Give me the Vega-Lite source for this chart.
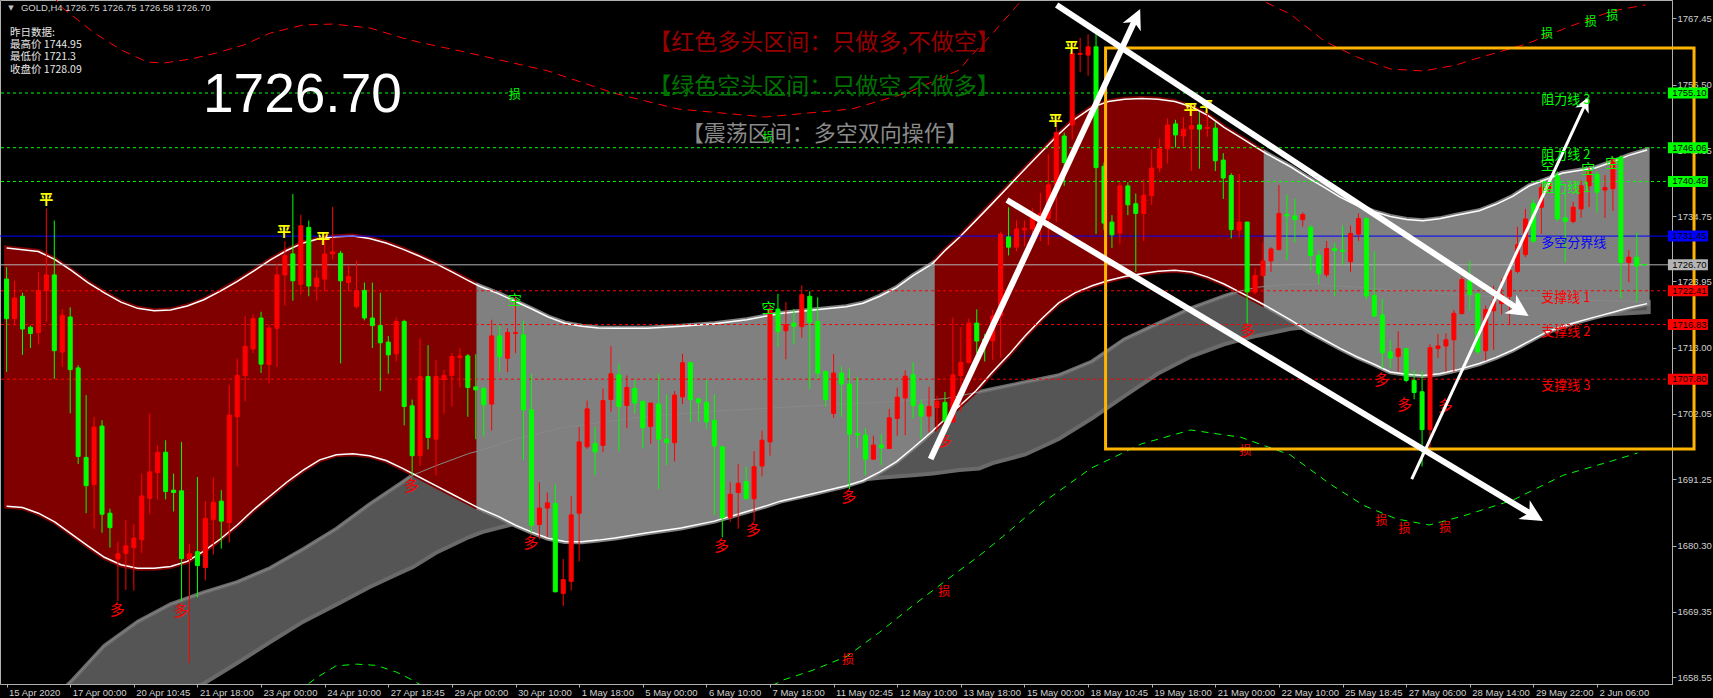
{
"$schema": "https://vega.github.io/schema/vega-lite/v6.json",
"width": 1672, "height": 684,
"autosize": {"type": "none"},
"padding": {"left": 0, "top": 0, "right": 41, "bottom": 14},
"background": "#000000",
"config": {"view": {"stroke": "#b0b0b0", "strokeWidth": 1}, "legend": {"disable": true}, "axis": {"grid": false}},
"datasets": {
"cd": [
{"b":0,"o":1724.34,"h":1726.33,"l":1708.98,"c":1717.8,"d":"dn"},
{"b":1,"o":1717.8,"h":1724.06,"l":1716.66,"c":1721.21,"d":"up"},
{"b":2,"o":1721.5,"h":1722.07,"l":1711.82,"c":1716.09,"d":"dn"},
{"b":3,"o":1716.38,"h":1716.66,"l":1712.96,"c":1715.35,"d":"dn"},
{"b":4,"o":1715.52,"h":1725.48,"l":1713.53,"c":1722.47,"d":"up"},
{"b":5,"o":1722.47,"h":1736.01,"l":1717.23,"c":1725.03,"d":"up"},
{"b":6,"o":1725.03,"h":1734.02,"l":1707.84,"c":1712.51,"d":"dn"},
{"b":7,"o":1712.28,"h":1719.39,"l":1709.83,"c":1718.37,"d":"up"},
{"b":8,"o":1718.08,"h":1719.68,"l":1702.15,"c":1709.38,"d":"dn"},
{"b":9,"o":1709.66,"h":1710.12,"l":1693.79,"c":1695.04,"d":"dn"},
{"b":10,"o":1694.87,"h":1705.17,"l":1685.65,"c":1690.2,"d":"dn"},
{"b":11,"o":1690.37,"h":1701.58,"l":1683.09,"c":1699.88,"d":"up"},
{"b":12,"o":1700.05,"h":1701.01,"l":1682.41,"c":1685.48,"d":"dn"},
{"b":13,"o":1685.65,"h":1686.39,"l":1679.96,"c":1683.26,"d":"dn"},
{"b":14,"o":1678.08,"h":1680.93,"l":1671.14,"c":1678.94,"d":"up"},
{"b":15,"o":1679.01,"h":1684.51,"l":1672.96,"c":1680.25,"d":"up"},
{"b":16,"o":1679.96,"h":1683.83,"l":1672.85,"c":1681.55,"d":"up"},
{"b":17,"o":1681.27,"h":1692.19,"l":1679.11,"c":1688.5,"d":"up"},
{"b":18,"o":1688.1,"h":1702.15,"l":1685.48,"c":1692.48,"d":"up"},
{"b":19,"o":1692.37,"h":1696.86,"l":1687.93,"c":1695.72,"d":"up"},
{"b":20,"o":1695.72,"h":1697.71,"l":1687.93,"c":1689.24,"d":"dn"},
{"b":21,"o":1689.46,"h":1692.19,"l":1685.93,"c":1689.07,"d":"dn"},
{"b":22,"o":1689.35,"h":1697.43,"l":1671.14,"c":1678.14,"d":"dn"},
{"b":23,"o":1678.14,"h":1680.53,"l":1660.9,"c":1678.94,"d":"up"},
{"b":24,"o":1679.28,"h":1691.63,"l":1671.71,"c":1677.0,"d":"dn"},
{"b":25,"o":1676.66,"h":1687.64,"l":1674.55,"c":1684.8,"d":"up"},
{"b":26,"o":1684.63,"h":1691.51,"l":1678.82,"c":1687.47,"d":"up"},
{"b":27,"o":1687.64,"h":1689.46,"l":1679.79,"c":1684.34,"d":"dn"},
{"b":28,"o":1684.12,"h":1706.87,"l":1680.81,"c":1701.87,"d":"up"},
{"b":29,"o":1701.58,"h":1711.26,"l":1693.33,"c":1708.41,"d":"up"},
{"b":30,"o":1708.41,"h":1718.2,"l":1704.14,"c":1713.25,"d":"up"},
{"b":31,"o":1712.79,"h":1718.48,"l":1712.11,"c":1717.8,"d":"up"},
{"b":32,"o":1717.91,"h":1718.94,"l":1708.81,"c":1710.29,"d":"dn"},
{"b":33,"o":1710.23,"h":1716.83,"l":1707.1,"c":1716.26,"d":"up"},
{"b":34,"o":1716.21,"h":1726.9,"l":1709.83,"c":1725.03,"d":"up"},
{"b":35,"o":1725.03,"h":1730.6,"l":1719.96,"c":1728.21,"d":"up"},
{"b":36,"o":1728.5,"h":1738.4,"l":1720.76,"c":1724.06,"d":"dn"},
{"b":37,"o":1723.49,"h":1734.98,"l":1721.78,"c":1733.16,"d":"up"},
{"b":38,"o":1732.88,"h":1734.02,"l":1721.5,"c":1723.2,"d":"dn"},
{"b":39,"o":1723.09,"h":1725.88,"l":1720.76,"c":1724.51,"d":"up"},
{"b":40,"o":1724.34,"h":1731.74,"l":1722.35,"c":1728.5,"d":"up"},
{"b":41,"o":1728.5,"h":1736.29,"l":1727.59,"c":1728.84,"d":"up"},
{"b":42,"o":1728.61,"h":1729.01,"l":1710.4,"c":1724.06,"d":"dn"},
{"b":43,"o":1723.77,"h":1726.51,"l":1722.35,"c":1724.74,"d":"up"},
{"b":44,"o":1719.79,"h":1727.36,"l":1719.51,"c":1722.47,"d":"up"},
{"b":45,"o":1722.47,"h":1723.77,"l":1717.52,"c":1717.91,"d":"dn"},
{"b":46,"o":1717.91,"h":1723.77,"l":1712.96,"c":1716.66,"d":"dn"},
{"b":47,"o":1716.66,"h":1722.07,"l":1705.85,"c":1713.82,"d":"dn"},
{"b":48,"o":1713.93,"h":1714.95,"l":1708.69,"c":1711.82,"d":"dn"},
{"b":49,"o":1711.99,"h":1717.97,"l":1710.69,"c":1717.34,"d":"up"},
{"b":50,"o":1717.34,"h":1717.63,"l":1700.16,"c":1703.29,"d":"dn"},
{"b":51,"o":1703.4,"h":1704.43,"l":1691.91,"c":1695.15,"d":"dn"},
{"b":52,"o":1695.15,"h":1714.5,"l":1693.45,"c":1708.24,"d":"up"},
{"b":53,"o":1708.24,"h":1713.42,"l":1696.18,"c":1698.17,"d":"dn"},
{"b":54,"o":1697.88,"h":1710.97,"l":1691.91,"c":1708.24,"d":"up"},
{"b":55,"o":1707.73,"h":1709.38,"l":1702.15,"c":1708.41,"d":"up"},
{"b":56,"o":1708.41,"h":1712.11,"l":1703.29,"c":1711.54,"d":"up"},
{"b":57,"o":1711.37,"h":1712.96,"l":1706.42,"c":1711.65,"d":"up"},
{"b":58,"o":1711.65,"h":1711.94,"l":1701.58,"c":1706.42,"d":"dn"},
{"b":59,"o":1706.53,"h":1711.94,"l":1697.88,"c":1706.02,"d":"dn"},
{"b":60,"o":1706.25,"h":1706.53,"l":1698.34,"c":1703.57,"d":"dn"},
{"b":61,"o":1703.69,"h":1717.63,"l":1699.31,"c":1714.95,"d":"up"},
{"b":62,"o":1714.95,"h":1716.66,"l":1708.98,"c":1711.54,"d":"dn"},
{"b":63,"o":1711.26,"h":1716.21,"l":1708.98,"c":1715.52,"d":"up"},
{"b":64,"o":1715.35,"h":1721.5,"l":1712.11,"c":1715.52,"d":"up"},
{"b":65,"o":1715.12,"h":1717.4,"l":1694.47,"c":1702.72,"d":"dn"},
{"b":66,"o":1702.72,"h":1708.69,"l":1682.52,"c":1683.66,"d":"dn"},
{"b":67,"o":1683.77,"h":1690.77,"l":1681.38,"c":1686.5,"d":"up"},
{"b":68,"o":1686.5,"h":1689.07,"l":1681.67,"c":1687.36,"d":"up"},
{"b":69,"o":1687.24,"h":1690.37,"l":1672.56,"c":1672.66,"d":"dn"},
{"b":70,"o":1672.39,"h":1678.08,"l":1670.29,"c":1674.67,"d":"up"},
{"b":71,"o":1674.39,"h":1688.5,"l":1672.85,"c":1685.37,"d":"up"},
{"b":72,"o":1685.65,"h":1699.88,"l":1677.68,"c":1697.43,"d":"up"},
{"b":73,"o":1696.63,"h":1704.26,"l":1696.29,"c":1702.89,"d":"up"},
{"b":74,"o":1697.14,"h":1699.88,"l":1691.91,"c":1695.78,"d":"dn"},
{"b":75,"o":1696.86,"h":1706.25,"l":1695.72,"c":1704.26,"d":"up"},
{"b":76,"o":1704.43,"h":1713.25,"l":1702.44,"c":1708.69,"d":"up"},
{"b":77,"o":1708.52,"h":1710.4,"l":1695.89,"c":1703.29,"d":"dn"},
{"b":78,"o":1703.46,"h":1708.41,"l":1699.7,"c":1706.42,"d":"up"},
{"b":79,"o":1706.25,"h":1707.67,"l":1702.15,"c":1703.86,"d":"dn"},
{"b":80,"o":1704.14,"h":1704.26,"l":1696.35,"c":1699.76,"d":"dn"},
{"b":81,"o":1699.99,"h":1703.86,"l":1697.14,"c":1703.86,"d":"up"},
{"b":82,"o":1703.69,"h":1708.69,"l":1689.63,"c":1697.88,"d":"dn"},
{"b":83,"o":1697.88,"h":1705.28,"l":1693.62,"c":1697.31,"d":"dn"},
{"b":84,"o":1697.31,"h":1705.85,"l":1694.19,"c":1705.17,"d":"up"},
{"b":85,"o":1704.88,"h":1711.99,"l":1703.69,"c":1710.52,"d":"up"},
{"b":86,"o":1710.52,"h":1710.57,"l":1700.73,"c":1704.43,"d":"dn"},
{"b":87,"o":1704.54,"h":1704.71,"l":1700.73,"c":1703.97,"d":"dn"},
{"b":88,"o":1703.97,"h":1707.67,"l":1699.59,"c":1700.73,"d":"dn"},
{"b":89,"o":1701.01,"h":1705.28,"l":1685.37,"c":1696.75,"d":"dn"},
{"b":90,"o":1696.63,"h":1696.63,"l":1681.67,"c":1684.91,"d":"dn"},
{"b":91,"o":1684.91,"h":1690.77,"l":1684.23,"c":1688.78,"d":"up"},
{"b":92,"o":1689.07,"h":1693.79,"l":1683.09,"c":1690.6,"d":"up"},
{"b":93,"o":1690.88,"h":1693.33,"l":1687.93,"c":1688.04,"d":"dn"},
{"b":94,"o":1688.04,"h":1695.89,"l":1684.23,"c":1693.33,"d":"up"},
{"b":95,"o":1693.45,"h":1699.31,"l":1691.74,"c":1697.71,"d":"up"},
{"b":96,"o":1697.43,"h":1720.36,"l":1695.15,"c":1719.39,"d":"up"},
{"b":97,"o":1719.39,"h":1721.9,"l":1713.13,"c":1715.69,"d":"dn"},
{"b":98,"o":1715.81,"h":1720.53,"l":1711.08,"c":1716.77,"d":"up"},
{"b":99,"o":1717.06,"h":1719.39,"l":1713.53,"c":1716.55,"d":"dn"},
{"b":100,"o":1716.49,"h":1723.32,"l":1714.67,"c":1721.78,"d":"up"},
{"b":101,"o":1721.5,"h":1722.35,"l":1706.13,"c":1717.23,"d":"dn"},
{"b":102,"o":1717.34,"h":1721.33,"l":1707.84,"c":1708.81,"d":"dn"},
{"b":103,"o":1709.09,"h":1709.09,"l":1703.29,"c":1704.43,"d":"dn"},
{"b":104,"o":1702.15,"h":1711.94,"l":1701.41,"c":1708.81,"d":"up"},
{"b":105,"o":1708.81,"h":1709.95,"l":1701.58,"c":1706.99,"d":"dn"},
{"b":106,"o":1706.99,"h":1709.55,"l":1689.63,"c":1698.74,"d":"dn"},
{"b":107,"o":1698.85,"h":1708.13,"l":1696.46,"c":1698.57,"d":"dn"},
{"b":108,"o":1698.57,"h":1699.7,"l":1691.91,"c":1694.58,"d":"dn"},
{"b":109,"o":1694.58,"h":1698.45,"l":1694.47,"c":1696.92,"d":"up"},
{"b":110,"o":1696.92,"h":1698.74,"l":1693.62,"c":1696.46,"d":"dn"},
{"b":111,"o":1696.35,"h":1702.89,"l":1696.29,"c":1701.41,"d":"up"},
{"b":112,"o":1701.3,"h":1706.42,"l":1698.45,"c":1704.83,"d":"up"},
{"b":113,"o":1704.71,"h":1709.26,"l":1698.57,"c":1708.3,"d":"up"},
{"b":114,"o":1708.52,"h":1710.57,"l":1701.3,"c":1703.46,"d":"dn"},
{"b":115,"o":1703.57,"h":1704.43,"l":1697.99,"c":1701.7,"d":"dn"},
{"b":116,"o":1701.7,"h":1706.53,"l":1699.02,"c":1703.29,"d":"up"},
{"b":117,"o":1703.12,"h":1704.99,"l":1699.14,"c":1704.14,"d":"up"},
{"b":118,"o":1703.97,"h":1705.68,"l":1700.56,"c":1700.84,"d":"dn"},
{"b":119,"o":1700.73,"h":1717.97,"l":1700.56,"c":1708.52,"d":"up"},
{"b":120,"o":1708.41,"h":1716.38,"l":1702.44,"c":1710.57,"d":"up"},
{"b":121,"o":1710.57,"h":1717.8,"l":1710.4,"c":1717.06,"d":"up"},
{"b":122,"o":1717.06,"h":1719.34,"l":1712.11,"c":1714.1,"d":"dn"},
{"b":123,"o":1714.42,"h":1715.28,"l":1710.72,"c":1713.57,"d":"dn"},
{"b":124,"o":1714.14,"h":1719.26,"l":1711.01,"c":1718.24,"d":"up"},
{"b":125,"o":1718.24,"h":1732.18,"l":1711.29,"c":1731.78,"d":"up"},
{"b":126,"o":1731.32,"h":1736.22,"l":1728.25,"c":1729.62,"d":"dn"},
{"b":127,"o":1729.62,"h":1734.05,"l":1728.93,"c":1732.63,"d":"up"},
{"b":128,"o":1732.46,"h":1734.05,"l":1729.79,"c":1732.75,"d":"up"},
{"b":129,"o":1732.63,"h":1736.05,"l":1731.78,"c":1734.51,"d":"up"},
{"b":130,"o":1734.34,"h":1738.61,"l":1730.64,"c":1735.19,"d":"up"},
{"b":131,"o":1734.34,"h":1744.98,"l":1729.96,"c":1739.91,"d":"up"},
{"b":132,"o":1739.91,"h":1750.84,"l":1733.77,"c":1748.56,"d":"up"},
{"b":133,"o":1747.99,"h":1748.56,"l":1739.74,"c":1743.61,"d":"dn"},
{"b":134,"o":1749.82,"h":1763.36,"l":1747.43,"c":1761.65,"d":"up"},
{"b":135,"o":1761.48,"h":1764.21,"l":1758.52,"c":1761.65,"d":"up"},
{"b":136,"o":1761.37,"h":1764.78,"l":1757.95,"c":1762.73,"d":"up"},
{"b":137,"o":1762.73,"h":1765.06,"l":1731.78,"c":1742.76,"d":"dn"},
{"b":138,"o":1742.99,"h":1743.61,"l":1732.46,"c":1733.6,"d":"dn"},
{"b":139,"o":1733.77,"h":1734.91,"l":1729.5,"c":1731.67,"d":"dn"},
{"b":140,"o":1731.95,"h":1740.31,"l":1730.07,"c":1739.74,"d":"up"},
{"b":141,"o":1739.74,"h":1740.31,"l":1734.91,"c":1736.62,"d":"dn"},
{"b":142,"o":1736.79,"h":1738.49,"l":1725.52,"c":1735.19,"d":"dn"},
{"b":143,"o":1735.19,"h":1740.88,"l":1730.64,"c":1738.21,"d":"up"},
{"b":144,"o":1738.15,"h":1745.72,"l":1736.62,"c":1742.7,"d":"up"},
{"b":145,"o":1742.7,"h":1747.6,"l":1742.02,"c":1745.89,"d":"up"},
{"b":146,"o":1745.89,"h":1750.95,"l":1743.44,"c":1749.82,"d":"up"},
{"b":147,"o":1749.99,"h":1750.67,"l":1746.12,"c":1748.17,"d":"dn"},
{"b":148,"o":1747.99,"h":1751.12,"l":1746.29,"c":1749.13,"d":"up"},
{"b":149,"o":1749.13,"h":1752.83,"l":1742.19,"c":1749.7,"d":"up"},
{"b":150,"o":1749.82,"h":1751.98,"l":1742.59,"c":1749.13,"d":"dn"},
{"b":151,"o":1749.25,"h":1752.26,"l":1747.88,"c":1749.42,"d":"up"},
{"b":152,"o":1749.3,"h":1750.27,"l":1742.19,"c":1743.9,"d":"dn"},
{"b":153,"o":1744.01,"h":1745.15,"l":1737.58,"c":1741.05,"d":"dn"},
{"b":154,"o":1741.45,"h":1741.85,"l":1731.04,"c":1732.52,"d":"dn"},
{"b":155,"o":1732.46,"h":1741.74,"l":1731.21,"c":1733.77,"d":"up"},
{"b":156,"o":1733.77,"h":1733.77,"l":1716.98,"c":1722.22,"d":"dn"},
{"b":157,"o":1722.22,"h":1726.09,"l":1721.82,"c":1724.95,"d":"up"},
{"b":158,"o":1724.95,"h":1730.36,"l":1724.67,"c":1727.34,"d":"up"},
{"b":159,"o":1727.34,"h":1729.62,"l":1725.52,"c":1729.33,"d":"up"},
{"b":160,"o":1729.22,"h":1739.91,"l":1729.11,"c":1735.19,"d":"up"},
{"b":161,"o":1735.02,"h":1738.32,"l":1727.51,"c":1734.79,"d":"dn"},
{"b":162,"o":1734.79,"h":1737.58,"l":1730.36,"c":1734.17,"d":"dn"},
{"b":163,"o":1734.17,"h":1735.36,"l":1733.03,"c":1735.02,"d":"up"},
{"b":164,"o":1732.92,"h":1733.2,"l":1725.8,"c":1728.25,"d":"dn"},
{"b":165,"o":1728.25,"h":1729.11,"l":1723.53,"c":1725.24,"d":"dn"},
{"b":166,"o":1725.07,"h":1730.64,"l":1724.67,"c":1729.39,"d":"up"},
{"b":167,"o":1729.39,"h":1730.36,"l":1721.54,"c":1729.05,"d":"dn"},
{"b":168,"o":1729.11,"h":1733.2,"l":1726.66,"c":1728.93,"d":"dn"},
{"b":169,"o":1727.23,"h":1733.2,"l":1725.52,"c":1731.89,"d":"up"},
{"b":170,"o":1731.78,"h":1735.19,"l":1730.64,"c":1734.34,"d":"up"},
{"b":171,"o":1734.34,"h":1734.51,"l":1720.97,"c":1721.54,"d":"dn"},
{"b":172,"o":1721.65,"h":1728.93,"l":1718.12,"c":1718.24,"d":"dn"},
{"b":173,"o":1718.41,"h":1721.08,"l":1709.59,"c":1712.15,"d":"dn"},
{"b":174,"o":1712.32,"h":1714.25,"l":1709.59,"c":1711.29,"d":"dn"},
{"b":175,"o":1711.58,"h":1715.73,"l":1709.02,"c":1712.83,"d":"up"},
{"b":176,"o":1712.83,"h":1713.0,"l":1707.31,"c":1707.6,"d":"dn"},
{"b":177,"o":1707.6,"h":1709.3,"l":1704.47,"c":1705.6,"d":"dn"},
{"b":178,"o":1705.72,"h":1709.13,"l":1693.37,"c":1699.46,"d":"dn"},
{"b":179,"o":1699.46,"h":1713.57,"l":1696.5,"c":1713.0,"d":"up"},
{"b":180,"o":1712.89,"h":1715.28,"l":1711.29,"c":1713.29,"d":"up"},
{"b":181,"o":1713.29,"h":1715.39,"l":1709.02,"c":1714.31,"d":"up"},
{"b":182,"o":1714.31,"h":1719.26,"l":1709.02,"c":1718.69,"d":"up"},
{"b":183,"o":1718.64,"h":1724.72,"l":1718.52,"c":1724.25,"d":"up"},
{"b":184,"o":1724.13,"h":1727.38,"l":1719.11,"c":1721.77,"d":"dn"},
{"b":185,"o":1721.89,"h":1722.06,"l":1711.91,"c":1712.32,"d":"dn"},
{"b":186,"o":1712.5,"h":1719.99,"l":1710.85,"c":1719.29,"d":"up"},
{"b":187,"o":1719.11,"h":1723.24,"l":1712.62,"c":1720.59,"d":"up"},
{"b":188,"o":1720.29,"h":1724.42,"l":1718.52,"c":1721.77,"d":"up"},
{"b":189,"o":1721.47,"h":1726.61,"l":1716.75,"c":1725.78,"d":"up"},
{"b":190,"o":1725.61,"h":1732.98,"l":1725.31,"c":1730.03,"d":"up"},
{"b":191,"o":1728.38,"h":1735.94,"l":1727.97,"c":1734.28,"d":"up"},
{"b":192,"o":1736.82,"h":1737.53,"l":1730.33,"c":1730.62,"d":"dn"},
{"b":193,"o":1736.23,"h":1740.07,"l":1731.8,"c":1739.48,"d":"up"},
{"b":194,"o":1739.18,"h":1740.95,"l":1738.59,"c":1740.07,"d":"up"},
{"b":195,"o":1741.43,"h":1742.13,"l":1733.87,"c":1734.28,"d":"dn"},
{"b":196,"o":1734.46,"h":1738.59,"l":1727.08,"c":1733.87,"d":"dn"},
{"b":197,"o":1733.87,"h":1737.12,"l":1733.57,"c":1736.23,"d":"up"},
{"b":198,"o":1735.94,"h":1740.66,"l":1734.46,"c":1739.77,"d":"up"},
{"b":199,"o":1739.77,"h":1742.72,"l":1736.23,"c":1742.13,"d":"up"},
{"b":200,"o":1741.66,"h":1742.13,"l":1735.35,"c":1738.71,"d":"dn"},
{"b":201,"o":1739.06,"h":1741.54,"l":1734.46,"c":1739.48,"d":"up"},
{"b":202,"o":1739.3,"h":1744.61,"l":1735.64,"c":1744.02,"d":"up"},
{"b":203,"o":1744.49,"h":1744.79,"l":1721.18,"c":1727.08,"d":"dn"},
{"b":204,"o":1727.08,"h":1729.15,"l":1723.83,"c":1727.97,"d":"up"},
{"b":205,"o":1727.97,"h":1731.98,"l":1720.59,"c":1726.49,"d":"dn"},
{"b":206,"o":1726.75,"h":1726.75,"l":1726.58,"c":1726.7,"d":"dn"}
],
"band": [
{"b":0,"up":1729.5,"lo":1686.8,"seg":"s1","kind":"bull"},
{"b":2,"up":1729.2,"lo":1686.6,"seg":"s1","kind":"bull"},
{"b":4,"up":1728.9,"lo":1685.65,"seg":"s1","kind":"bull"},
{"b":6.05,"up":1727.59,"lo":1684.23,"seg":"s1","kind":"bull"},
{"b":8.13,"up":1725.77,"lo":1682.24,"seg":"s1","kind":"bull"},
{"b":10.22,"up":1723.77,"lo":1680.25,"seg":"s1","kind":"bull"},
{"b":12.3,"up":1722.07,"lo":1678.37,"seg":"s1","kind":"bull"},
{"b":14.38,"up":1720.53,"lo":1677.12,"seg":"s1","kind":"bull"},
{"b":16.47,"up":1719.51,"lo":1676.55,"seg":"s1","kind":"bull"},
{"b":18.55,"up":1719.11,"lo":1676.55,"seg":"s1","kind":"bull"},
{"b":20.63,"up":1719.22,"lo":1676.83,"seg":"s1","kind":"bull"},
{"b":22.72,"up":1719.9,"lo":1677.68,"seg":"s1","kind":"bull"},
{"b":24.8,"up":1720.93,"lo":1679.39,"seg":"s1","kind":"bull"},
{"b":26.88,"up":1722.35,"lo":1681.38,"seg":"s1","kind":"bull"},
{"b":28.97,"up":1723.94,"lo":1683.66,"seg":"s1","kind":"bull"},
{"b":31.05,"up":1725.65,"lo":1686.22,"seg":"s1","kind":"bull"},
{"b":33.13,"up":1727.47,"lo":1688.5,"seg":"s1","kind":"bull"},
{"b":35.22,"up":1729.07,"lo":1690.77,"seg":"s1","kind":"bull"},
{"b":37.3,"up":1730.32,"lo":1692.76,"seg":"s1","kind":"bull"},
{"b":39.38,"up":1731.06,"lo":1694.47,"seg":"s1","kind":"bull"},
{"b":41.47,"up":1731.34,"lo":1695.32,"seg":"s1","kind":"bull"},
{"b":43.55,"up":1731.46,"lo":1695.49,"seg":"s1","kind":"bull"},
{"b":45.63,"up":1731.06,"lo":1695.15,"seg":"s1","kind":"bull"},
{"b":47.72,"up":1730.32,"lo":1694.36,"seg":"s1","kind":"bull"},
{"b":49.8,"up":1729.29,"lo":1693.05,"seg":"s1","kind":"bull"},
{"b":51.88,"up":1728.15,"lo":1691.63,"seg":"s1","kind":"bull"},
{"b":53.97,"up":1726.9,"lo":1690.2,"seg":"s1","kind":"bull"},
{"b":56.05,"up":1725.48,"lo":1688.78,"seg":"s1","kind":"bull"},
{"b":58.13,"up":1724.06,"lo":1687.36,"seg":"s1","kind":"bull"},
{"b":59.4,"up":1723.2,"lo":1686.5,"seg":"s1","kind":"bull"},
{"b":59.4,"up":1723.2,"lo":1686.5,"seg":"s2","kind":"range"},
{"b":61.9,"up":1721.9,"lo":1685.08,"seg":"s2","kind":"range"},
{"b":64.0,"up":1720.64,"lo":1683.66,"seg":"s2","kind":"range"},
{"b":66.05,"up":1719.39,"lo":1682.52,"seg":"s2","kind":"range"},
{"b":68.1,"up":1718.08,"lo":1681.5,"seg":"s2","kind":"range"},
{"b":70.2,"up":1717.06,"lo":1680.99,"seg":"s2","kind":"range"},
{"b":72.3,"up":1716.55,"lo":1680.93,"seg":"s2","kind":"range"},
{"b":74.4,"up":1716.26,"lo":1681.2,"seg":"s2","kind":"range"},
{"b":76.5,"up":1716.21,"lo":1681.55,"seg":"s2","kind":"range"},
{"b":80.6,"up":1716.21,"lo":1682.41,"seg":"s2","kind":"range"},
{"b":84.8,"up":1716.55,"lo":1683.21,"seg":"s2","kind":"range"},
{"b":89.0,"up":1716.95,"lo":1684.34,"seg":"s2","kind":"range"},
{"b":93.1,"up":1717.63,"lo":1685.93,"seg":"s2","kind":"range"},
{"b":95.6,"up":1718.26,"lo":1686.9,"seg":"s2","kind":"range"},
{"b":97.3,"up":1718.65,"lo":1687.64,"seg":"s2","kind":"range"},
{"b":101.5,"up":1719.22,"lo":1688.89,"seg":"s2","kind":"range"},
{"b":105.6,"up":1719.79,"lo":1690.2,"seg":"s2","kind":"range"},
{"b":107.7,"up":1720.36,"lo":1691.06,"seg":"s2","kind":"range"},
{"b":109.8,"up":1721.5,"lo":1692.48,"seg":"s2","kind":"range"},
{"b":111.9,"up":1722.92,"lo":1694.19,"seg":"s2","kind":"range"},
{"b":114.0,"up":1724.91,"lo":1696.46,"seg":"s2","kind":"range"},
{"b":116.4,"up":1726.85,"lo":1699.2,"seg":"s2","kind":"range"},
{"b":116.4,"up":1726.85,"lo":1699.2,"seg":"s3","kind":"bull"},
{"b":118.1,"up":1729.18,"lo":1701.3,"seg":"s3","kind":"bull"},
{"b":119.8,"up":1731.21,"lo":1703.33,"seg":"s3","kind":"bull"},
{"b":121.9,"up":1734.05,"lo":1705.89,"seg":"s3","kind":"bull"},
{"b":124.0,"up":1736.9,"lo":1709.02,"seg":"s3","kind":"bull"},
{"b":126.05,"up":1739.74,"lo":1711.86,"seg":"s3","kind":"bull"},
{"b":128.1,"up":1742.59,"lo":1714.99,"seg":"s3","kind":"bull"},
{"b":130.2,"up":1745.43,"lo":1717.84,"seg":"s3","kind":"bull"},
{"b":132.3,"up":1748.28,"lo":1720.4,"seg":"s3","kind":"bull"},
{"b":134.4,"up":1750.84,"lo":1722.11,"seg":"s3","kind":"bull"},
{"b":136.5,"up":1752.72,"lo":1723.24,"seg":"s3","kind":"bull"},
{"b":138.55,"up":1753.68,"lo":1724.1,"seg":"s3","kind":"bull"},
{"b":140.6,"up":1754.08,"lo":1724.78,"seg":"s3","kind":"bull"},
{"b":142.7,"up":1754.2,"lo":1725.24,"seg":"s3","kind":"bull"},
{"b":144.8,"up":1754.08,"lo":1725.63,"seg":"s3","kind":"bull"},
{"b":146.9,"up":1753.68,"lo":1725.8,"seg":"s3","kind":"bull"},
{"b":149.0,"up":1752.83,"lo":1725.52,"seg":"s3","kind":"bull"},
{"b":151.05,"up":1751.41,"lo":1724.67,"seg":"s3","kind":"bull"},
{"b":153.1,"up":1749.42,"lo":1723.53,"seg":"s3","kind":"bull"},
{"b":155.2,"up":1747.71,"lo":1722.11,"seg":"s3","kind":"bull"},
{"b":157.3,"up":1746.0,"lo":1720.68,"seg":"s3","kind":"bull"},
{"b":158.4,"up":1745.1,"lo":1719.9,"seg":"s3","kind":"bull"},
{"b":158.4,"up":1745.1,"lo":1719.9,"seg":"s4","kind":"range"},
{"b":161.5,"up":1742.87,"lo":1717.55,"seg":"s4","kind":"range"},
{"b":163.55,"up":1741.17,"lo":1715.85,"seg":"s4","kind":"range"},
{"b":165.6,"up":1739.6,"lo":1714.4,"seg":"s4","kind":"range"},
{"b":167.7,"up":1737.9,"lo":1712.9,"seg":"s4","kind":"range"},
{"b":169.8,"up":1736.5,"lo":1711.5,"seg":"s4","kind":"range"},
{"b":171.9,"up":1735.5,"lo":1710.3,"seg":"s4","kind":"range"},
{"b":174.0,"up":1734.7,"lo":1709.0,"seg":"s4","kind":"range"},
{"b":176.05,"up":1734.2,"lo":1708.6,"seg":"s4","kind":"range"},
{"b":178.1,"up":1734.0,"lo":1708.4,"seg":"s4","kind":"range"},
{"b":180.2,"up":1734.3,"lo":1708.7,"seg":"s4","kind":"range"},
{"b":182.3,"up":1734.9,"lo":1709.3,"seg":"s4","kind":"range"},
{"b":185.2,"up":1735.64,"lo":1710.38,"seg":"s4","kind":"range"},
{"b":187.3,"up":1736.7,"lo":1711.4,"seg":"s4","kind":"range"},
{"b":189.4,"up":1738.0,"lo":1712.62,"seg":"s4","kind":"range"},
{"b":191.5,"up":1739.77,"lo":1714.1,"seg":"s4","kind":"range"},
{"b":193.6,"up":1740.8,"lo":1715.57,"seg":"s4","kind":"range"},
{"b":195.6,"up":1741.84,"lo":1716.5,"seg":"s4","kind":"range"},
{"b":197.7,"up":1742.3,"lo":1717.34,"seg":"s4","kind":"range"},
{"b":199.8,"up":1742.72,"lo":1718.1,"seg":"s4","kind":"range"},
{"b":201.9,"up":1743.7,"lo":1718.82,"seg":"s4","kind":"range"},
{"b":204.0,"up":1744.79,"lo":1719.6,"seg":"s4","kind":"range"},
{"b":206.3,"up":1745.68,"lo":1720.29,"seg":"s4","kind":"range"}
],
"dark": [
{"b":0,"up":1647,"lo":1637},{"b":4,"up":1652.5,"lo":1642},{"b":8.3,"up":1658.06,"lo":1646},
{"b":12.3,"up":1663.74,"lo":1649.5},{"b":16.5,"up":1667.73,"lo":1652.5},{"b":20.6,"up":1670.57,"lo":1655.3},
{"b":24.8,"up":1672.56,"lo":1657.5},{"b":29.0,"up":1674.27,"lo":1660.9},{"b":33.1,"up":1676.55,"lo":1664.31},
{"b":37.3,"up":1679.68,"lo":1667.73},{"b":41.5,"up":1683.09,"lo":1670.57},{"b":45.6,"up":1687.07,"lo":1673.42},
{"b":49.8,"up":1690.77,"lo":1675.98},{"b":51.05,"up":1691.91,"lo":1676.7},{"b":54.0,"up":1693.5,"lo":1679.11},
{"b":58.1,"up":1695.5,"lo":1681.67},{"b":59.8,"up":1696.1,"lo":1682.52},{"b":64.0,"up":1697.9,"lo":1683.95},
{"b":70,"up":1699.8,"lo":1684.5},{"b":80,"up":1701.6,"lo":1685.5},{"b":90,"up":1702.6,"lo":1687.2},
{"b":100,"up":1703.3,"lo":1689.2},{"b":105.6,"up":1703.7,"lo":1690.94},{"b":109.8,"up":1704.0,"lo":1691.51},
{"b":114.0,"up":1704.25,"lo":1691.91},{"b":116.5,"up":1704.43,"lo":1692.2},{"b":118.1,"up":1704.6,"lo":1692.48},
{"b":119.8,"up":1705.04,"lo":1692.8},{"b":122.3,"up":1705.7,"lo":1693.05},{"b":124.0,"up":1706.17,"lo":1693.94},
{"b":128.1,"up":1707.31,"lo":1695.36},{"b":132.3,"up":1708.45,"lo":1697.92},{"b":136.5,"up":1710.72,"lo":1701.34},
{"b":140.6,"up":1714.42,"lo":1705.04},{"b":144.8,"up":1716.98,"lo":1708.73},{"b":149.0,"up":1719.55,"lo":1711.58},
{"b":153.1,"up":1721.54,"lo":1713.57},{"b":155.2,"up":1722.39,"lo":1714.3},{"b":157.3,"up":1723.0,"lo":1714.99},
{"b":161.5,"up":1723.5,"lo":1716.13},{"b":163.6,"up":1723.5,"lo":1716.42},{"b":170,"up":1723.0,"lo":1717.0},
{"b":180,"up":1722.0,"lo":1717.4},{"b":190,"up":1721.2,"lo":1717.9},{"b":200,"up":1720.8,"lo":1718.4},
{"b":206.5,"up":1720.6,"lo":1718.9}
],
"envr": [
{"b":-0.2,"p":1781},{"b":2.3,"p":1777.1},{"b":4.8,"p":1772.95},{"b":6.9,"p":1769.32},{"b":11.05,"p":1765.02},
{"b":14.4,"p":1762.21},{"b":17.7,"p":1760.22},{"b":19.8,"p":1760.06},{"b":23.2,"p":1760.72},{"b":26.4,"p":1761.71},
{"b":29.8,"p":1763.03},{"b":33.2,"p":1765.02},{"b":37.3,"p":1766.34},{"b":41.05,"p":1766.5},{"b":45.7,"p":1765.84},
{"b":49.8,"p":1764.19},{"b":52.3,"p":1763.36},{"b":57.2,"p":1762.0},{"b":68.1,"p":1758.74},{"b":76.3,"p":1755.1},
{"b":84.4,"p":1752.46},{"b":95.4,"p":1751.13},{"b":106.3,"p":1752.46},{"b":113.2,"p":1755.1},{"b":119.8,"p":1758.9},
{"b":121.05,"p":1760.9},{"b":123.96,"p":1764.9},{"b":126.9,"p":1769.3},{"b":130,"p":1774},{"b":135,"p":1780},
{"b":145,"p":1790},{"b":150,"p":1786},{"b":155,"p":1775},{"b":157.7,"p":1770.5},{"b":161.4,"p":1768.16},
{"b":165.7,"p":1763.7},{"b":169.8,"p":1761.05},{"b":174,"p":1759.07},{"b":178.2,"p":1758.74},{"b":182.3,"p":1759.73},
{"b":184.2,"p":1760.55},{"b":191.1,"p":1763.19},{"b":196.4,"p":1766.01},{"b":201.9,"p":1768.65},{"b":206.1,"p":1769.65}
],
"envg": [
{"b":30,"p":1650},{"b":35,"p":1654.5},{"b":38.9,"p":1658.4},{"b":41.4,"p":1660.4},{"b":44.0,"p":1660.7},
{"b":46.5,"p":1660.5},{"b":49,"p":1659.4},{"b":51.05,"p":1658.06},{"b":55,"p":1655},{"b":65,"p":1650},
{"b":75,"p":1648},{"b":85,"p":1650},{"b":93,"p":1655},{"b":97.7,"p":1658.1},{"b":101.4,"p":1659.7},
{"b":105.7,"p":1662.0},{"b":109.8,"p":1666.0},{"b":113.9,"p":1670.3},{"b":118.2,"p":1674.6},{"b":122.3,"p":1678.6},
{"b":125.2,"p":1681.7},{"b":130.2,"p":1687.3},{"b":136.4,"p":1693.1},{"b":142.7,"p":1697.1},{"b":148.9,"p":1699.4},
{"b":155.2,"p":1698.2},{"b":161.4,"p":1695.3},{"b":166.4,"p":1690.5},{"b":170.7,"p":1686.9},{"b":174.8,"p":1684.7},
{"b":178.9,"p":1683.7},{"b":183.2,"p":1685.2},{"b":189.4,"p":1687.8},{"b":195.7,"p":1691.9},{"b":201.9,"p":1694.3},
{"b":205.1,"p":1695.6}
],
"lv": [
{"p":1755.10,"k":"res","lab":"1755.10","n":"阻力线 3"},
{"p":1746.06,"k":"res","lab":"1746.06","n":"阻力线 2"},
{"p":1740.48,"k":"res","lab":"1740.48","n":"阻力线 1"},
{"p":1731.45,"k":"piv","lab":"1731.45","n":"多空分界线"},
{"p":1726.70,"k":"last","lab":"1726.70","n":""},
{"p":1722.41,"k":"sup","lab":"1722.41","n":"支撑线 1"},
{"p":1716.83,"k":"sup","lab":"1716.83","n":"支撑线 2"},
{"p":1707.80,"k":"sup","lab":"1707.80","n":"支撑线 3"}
],
"mk": [
{"b":5.0,"p":1737.41,"t":"平","k":"ping"},{"b":34.9,"p":1732.13,"t":"平","k":"ping"},{"b":39.8,"p":1730.97,"t":"平","k":"ping"},
{"b":131.9,"p":1750.47,"t":"平","k":"ping"},{"b":133.9,"p":1762.54,"t":"平","k":"ping"},{"b":148.9,"p":1752.29,"t":"平","k":"ping"},
{"b":150.9,"p":1752.79,"t":"平","k":"ping"},
{"b":63.9,"p":1720.72,"t":"空","k":"kong"},{"b":95.8,"p":1719.4,"t":"空","k":"kong"},{"b":193.8,"p":1743.03,"t":"空","k":"kong"},
{"b":198.9,"p":1742.37,"t":"空","k":"kong"},{"b":201.9,"p":1743.36,"t":"空","k":"kong"},
{"b":13.9,"p":1669.65,"t":"多","k":"duo"},{"b":21.9,"p":1669.48,"t":"多","k":"duo"},{"b":50.9,"p":1690.14,"t":"多","k":"duo"},
{"b":65.9,"p":1680.72,"t":"多","k":"duo"},{"b":89.9,"p":1680.22,"t":"多","k":"duo"},{"b":93.9,"p":1682.87,"t":"多","k":"duo"},
{"b":105.9,"p":1688.32,"t":"多","k":"duo"},{"b":117.9,"p":1697.58,"t":"多","k":"duo"},{"b":156.05,"p":1715.76,"t":"多","k":"duo"},
{"b":172.9,"p":1707.66,"t":"多","k":"duo"},{"b":175.8,"p":1703.53,"t":"多","k":"duo"},{"b":180.9,"p":1703.36,"t":"多","k":"duo"},
{"b":117.9,"p":1672.62,"t":"损","k":"sunr"},{"b":105.8,"p":1661.38,"t":"损","k":"sunr"},{"b":155.8,"p":1695.93,"t":"损","k":"sunr"},
{"b":172.9,"p":1684.36,"t":"损","k":"sunr"},{"b":175.8,"p":1683.03,"t":"损","k":"sunr"},{"b":180.9,"p":1683.2,"t":"损","k":"sunr"},
{"b":63.9,"p":1754.77,"t":"损","k":"sung"},{"b":95.8,"p":1747.66,"t":"损","k":"sung"},{"b":193.7,"p":1764.85,"t":"损","k":"sung"},
{"b":199.2,"p":1766.84,"t":"损","k":"sung"},{"b":201.9,"p":1767.83,"t":"损","k":"sung"}
],
"ar": [
{"id":"a1","b":116.2,"p":1694.6},{"id":"a1","b":142.02,"p":1767.49},
{"id":"a2","b":132.05,"p":1769.65},{"id":"a2","b":190.28,"p":1719.24},
{"id":"a3","b":125.8,"p":1737.41},{"id":"a3","b":191.99,"p":1685.29},
{"id":"a4","b":176.7,"p":1691.3},{"id":"a4","b":198.53,"p":1753.31}
]
},
"layer": [
{"data":{"name":"dark"},
 "mark":{"type":"area","color":"#555555","stroke":"#6a6a6a","strokeWidth":4,"clip":true},
 "encoding":{
  "x":{"field":"b","type":"quantitative","scale":{"domain":[-0.2,208.8],"nice":false,"zero":false},"title":null,
   "axis":{"values":[0,8,16,24,32,40,48,56,64,72,80,88,96,104,112,120,128,136,144,152,160,168,176,184,192,200],
    "labelExpr":"['15 Apr 2020','17 Apr 00:00','20 Apr 10:45','21 Apr 18:00','23 Apr 00:00','24 Apr 10:00','27 Apr 18:45','29 Apr 00:00','30 Apr 10:00','1 May 18:00','5 May 00:00','6 May 10:00','7 May 18:00','11 May 02:45','12 May 10:00','13 May 18:00','15 May 00:00','18 May 10:45','19 May 18:00','21 May 00:00','22 May 10:00','25 May 18:45','27 May 06:00','28 May 14:00','29 May 22:00','2 Jun 06:00'][round(datum.value/8)]",
    "labelAlign":"left","labelBaseline":"top","labelOffset":2,"labelPadding":0,"tickSize":3,"labelFont":"Liberation Sans","labelFontSize":9.5,
    "labelColor":"#d0d0d0","domainColor":"#b0b0b0","tickColor":"#b0b0b0","labelOverlap":false,"labelFlush":false,"grid":false}},
  "y":{"field":"up","type":"quantitative","scale":{"domain":[1657.42,1770.47],"nice":false,"zero":false},"title":null,
   "axis":{"orient":"right","values":[1767.45,1762.05,1756.5,1751.1,1745.65,1740.2,1734.75,1729.35,1723.95,1718.4,1713.0,1707.55,1702.05,1696.65,1691.25,1685.7,1680.3,1674.9,1669.35,1663.95,1658.55],
    "labelExpr":"format(datum.value, '.2f')","tickSize":4,"labelPadding":1,"labelFont":"Liberation Sans","labelFontSize":9.5,
    "labelColor":"#d0d0d0","domainColor":"#b0b0b0","tickColor":"#b0b0b0","labelOverlap":false,"labelFlush":false,"grid":false}},
  "y2":{"field":"lo"}}},
{"data":{"name":"band"},"transform":[{"filter":"datum.kind == 'bull'"}],
 "mark":{"type":"area","color":"#800000","stroke":"#800000","strokeWidth":5},
 "encoding":{"x":{"field":"b","type":"quantitative","scale":{"domain":[-0.2,208.8],"nice":false,"zero":false},"title":null},
  "y":{"field":"up","type":"quantitative","scale":{"domain":[1657.42,1770.47],"nice":false,"zero":false},"title":null},
  "y2":{"field":"lo"},"detail":{"field":"seg","type":"nominal"}}},
{"data":{"name":"band"},"transform":[{"filter":"datum.kind == 'range'"}],
 "mark":{"type":"area","color":"#808080","stroke":"#808080","strokeWidth":5},
 "encoding":{"x":{"field":"b","type":"quantitative","scale":{"domain":[-0.2,208.8],"nice":false,"zero":false},"title":null},
  "y":{"field":"up","type":"quantitative","scale":{"domain":[1657.42,1770.47],"nice":false,"zero":false},"title":null},
  "y2":{"field":"lo"},"detail":{"field":"seg","type":"nominal"}}},
{"data":{"name":"dark"},
 "mark":{"type":"line","color":"#888888","strokeWidth":1,"clip":true},
 "encoding":{"x":{"field":"b","type":"quantitative","scale":{"domain":[-0.2,208.8],"nice":false,"zero":false},"title":null},
  "y":{"field":"up","type":"quantitative","scale":{"domain":[1657.42,1770.47],"nice":false,"zero":false},"title":null}}},
{"data":{"name":"band"},
 "mark":{"type":"line","color":"#ffffff","strokeWidth":1.5},
 "encoding":{"x":{"field":"b","type":"quantitative","scale":{"domain":[-0.2,208.8],"nice":false,"zero":false},"title":null},
  "y":{"field":"up","type":"quantitative","scale":{"domain":[1657.42,1770.47],"nice":false,"zero":false},"title":null}}},
{"data":{"name":"band"},
 "mark":{"type":"line","color":"#ffffff","strokeWidth":1.5},
 "encoding":{"x":{"field":"b","type":"quantitative","scale":{"domain":[-0.2,208.8],"nice":false,"zero":false},"title":null},
  "y":{"field":"lo","type":"quantitative","scale":{"domain":[1657.42,1770.47],"nice":false,"zero":false},"title":null}}},
{"data":{"name":"envr"},
 "mark":{"type":"line","color":"#ff0000","strokeWidth":1,"strokeDash":[9,6],"clip":true},
 "encoding":{"x":{"field":"b","type":"quantitative","scale":{"domain":[-0.2,208.8],"nice":false,"zero":false},"title":null},
  "y":{"field":"p","type":"quantitative","scale":{"domain":[1657.42,1770.47],"nice":false,"zero":false},"title":null}}},
{"data":{"name":"envg"},
 "mark":{"type":"line","color":"#00ff00","strokeWidth":1,"strokeDash":[7,6],"clip":true},
 "encoding":{"x":{"field":"b","type":"quantitative","scale":{"domain":[-0.2,208.8],"nice":false,"zero":false},"title":null},
  "y":{"field":"p","type":"quantitative","scale":{"domain":[1657.42,1770.47],"nice":false,"zero":false},"title":null}}},
{"data":{"name":"lv"},
 "mark":{"type":"rule","strokeWidth":1},
 "encoding":{
  "y":{"field":"p","type":"quantitative","scale":{"domain":[1657.42,1770.47],"nice":false,"zero":false},"title":null},
  "color":{"field":"k","type":"nominal","scale":{"domain":["res","piv","last","sup"],"range":["#00ff00","#0000ff","#b4b4b4","#ff0000"]},"legend":null},
  "strokeDash":{"field":"k","type":"nominal","scale":{"domain":["res","piv","last","sup"],"range":[[3,3],[1,0],[1,0],[3,3]]},"legend":null}}},
{"data":{"name":"cd"},"transform":[{"filter":"datum.d == 'up'"}],
 "mark":{"type":"rule","color":"#ff0000","strokeWidth":1},
 "encoding":{"x":{"field":"b","type":"quantitative","scale":{"domain":[-0.2,208.8],"nice":false,"zero":false},"title":null},
  "y":{"field":"l","type":"quantitative","scale":{"domain":[1657.42,1770.47],"nice":false,"zero":false},"title":null},
  "y2":{"field":"h"}}},
{"data":{"name":"cd"},"transform":[{"filter":"datum.d == 'dn'"}],
 "mark":{"type":"rule","color":"#00ff00","strokeWidth":1},
 "encoding":{"x":{"field":"b","type":"quantitative","scale":{"domain":[-0.2,208.8],"nice":false,"zero":false},"title":null},
  "y":{"field":"l","type":"quantitative","scale":{"domain":[1657.42,1770.47],"nice":false,"zero":false},"title":null},
  "y2":{"field":"h"}}},
{"data":{"name":"cd"},"transform":[{"filter":"datum.d == 'up'"}],
 "mark":{"type":"bar","size":4,"color":"#ff0000","stroke":"#ff0000","strokeWidth":1},
 "encoding":{"x":{"field":"b","type":"quantitative","scale":{"domain":[-0.2,208.8],"nice":false,"zero":false},"title":null},
  "y":{"field":"o","type":"quantitative","scale":{"domain":[1657.42,1770.47],"nice":false,"zero":false},"title":null},
  "y2":{"field":"c"}}},
{"data":{"name":"cd"},"transform":[{"filter":"datum.d == 'dn'"}],
 "mark":{"type":"bar","size":4,"color":"#00ff00","stroke":"#00ff00","strokeWidth":1},
 "encoding":{"x":{"field":"b","type":"quantitative","scale":{"domain":[-0.2,208.8],"nice":false,"zero":false},"title":null},
  "y":{"field":"o","type":"quantitative","scale":{"domain":[1657.42,1770.47],"nice":false,"zero":false},"title":null},
  "y2":{"field":"c"}}},
{"data":{"name":"mk"},"transform":[{"filter":"datum.k == 'ping'"}],
 "mark":{"type":"text","color":"#ffff00","font":"Noto Sans CJK SC","fontSize":14,"fontWeight":"bold","align":"center","baseline":"middle"},
 "encoding":{"x":{"field":"b","type":"quantitative","scale":{"domain":[-0.2,208.8],"nice":false,"zero":false},"title":null},
  "y":{"field":"p","type":"quantitative","scale":{"domain":[1657.42,1770.47],"nice":false,"zero":false},"title":null},
  "text":{"field":"t"}}},
{"data":{"name":"mk"},"transform":[{"filter":"datum.k == 'kong'"}],
 "mark":{"type":"text","color":"#00ff00","font":"Noto Sans CJK SC","fontSize":14,"align":"center","baseline":"middle"},
 "encoding":{"x":{"field":"b","type":"quantitative","scale":{"domain":[-0.2,208.8],"nice":false,"zero":false},"title":null},
  "y":{"field":"p","type":"quantitative","scale":{"domain":[1657.42,1770.47],"nice":false,"zero":false},"title":null},
  "text":{"field":"t"}}},
{"data":{"name":"mk"},"transform":[{"filter":"datum.k == 'duo'"}],
 "mark":{"type":"text","color":"#ff0000","font":"Noto Sans CJK SC","fontSize":15,"align":"center","baseline":"middle"},
 "encoding":{"x":{"field":"b","type":"quantitative","scale":{"domain":[-0.2,208.8],"nice":false,"zero":false},"title":null},
  "y":{"field":"p","type":"quantitative","scale":{"domain":[1657.42,1770.47],"nice":false,"zero":false},"title":null},
  "text":{"field":"t"}}},
{"data":{"name":"mk"},"transform":[{"filter":"datum.k == 'sunr'"}],
 "mark":{"type":"text","color":"#ff0000","font":"Noto Sans CJK SC","fontSize":12,"align":"center","baseline":"middle"},
 "encoding":{"x":{"field":"b","type":"quantitative","scale":{"domain":[-0.2,208.8],"nice":false,"zero":false},"title":null},
  "y":{"field":"p","type":"quantitative","scale":{"domain":[1657.42,1770.47],"nice":false,"zero":false},"title":null},
  "text":{"field":"t"}}},
{"data":{"name":"mk"},"transform":[{"filter":"datum.k == 'sung'"}],
 "mark":{"type":"text","color":"#00ff00","font":"Noto Sans CJK SC","fontSize":12,"align":"center","baseline":"middle"},
 "encoding":{"x":{"field":"b","type":"quantitative","scale":{"domain":[-0.2,208.8],"nice":false,"zero":false},"title":null},
  "y":{"field":"p","type":"quantitative","scale":{"domain":[1657.42,1770.47],"nice":false,"zero":false},"title":null},
  "text":{"field":"t"}}},
{"data":{"values":[{"b":138.2,"b2":212.2,"p":1762.54,"p2":1696.26}]},
 "mark":{"type":"rect","filled":false,"stroke":"#ffb400","strokeWidth":3},
 "encoding":{"x":{"field":"b","type":"quantitative","scale":{"domain":[-0.2,208.8],"nice":false,"zero":false},"title":null},
  "x2":{"field":"b2"},
  "y":{"field":"p","type":"quantitative","scale":{"domain":[1657.42,1770.47],"nice":false,"zero":false},"title":null},
  "y2":{"field":"p2"}}},
{"data":{"name":"ar"},"transform":[{"filter":"datum.id != 'a4'"}],
 "mark":{"type":"line","color":"#ffffff","strokeWidth":6,"strokeCap":"butt"},
 "encoding":{"x":{"field":"b","type":"quantitative","scale":{"domain":[-0.2,208.8],"nice":false,"zero":false},"title":null},
  "y":{"field":"p","type":"quantitative","scale":{"domain":[1657.42,1770.47],"nice":false,"zero":false},"title":null},
  "detail":{"field":"id","type":"nominal"}}},
{"data":{"name":"ar"},"transform":[{"filter":"datum.id == 'a4'"}],
 "mark":{"type":"line","color":"#ffffff","strokeWidth":3,"strokeCap":"butt"},
 "encoding":{"x":{"field":"b","type":"quantitative","scale":{"domain":[-0.2,208.8],"nice":false,"zero":false},"title":null},
  "y":{"field":"p","type":"quantitative","scale":{"domain":[1657.42,1770.47],"nice":false,"zero":false},"title":null}}},
{"data":{"values":[{"b":142.55,"p":1768.98}]},
 "mark":{"type":"point","shape":"M0,0L0.5,1L0,0.72L-0.5,1Z","size":1600,"angle":25,"filled":true,"color":"#ffffff","opacity":1,"strokeWidth":0},
 "encoding":{"x":{"field":"b","type":"quantitative","scale":{"domain":[-0.2,208.8],"nice":false,"zero":false},"title":null},
  "y":{"field":"p","type":"quantitative","scale":{"domain":[1657.42,1770.47],"nice":false,"zero":false},"title":null}}},
{"data":{"values":[{"b":191.4,"p":1718.24}]},
 "mark":{"type":"point","shape":"M0,0L0.5,1L0,0.72L-0.5,1Z","size":1936,"angle":123,"filled":true,"color":"#ffffff","opacity":1,"strokeWidth":0},
 "encoding":{"x":{"field":"b","type":"quantitative","scale":{"domain":[-0.2,208.8],"nice":false,"zero":false},"title":null},
  "y":{"field":"p","type":"quantitative","scale":{"domain":[1657.42,1770.47],"nice":false,"zero":false},"title":null}}},
{"data":{"values":[{"b":193.2,"p":1684.36}]},
 "mark":{"type":"point","shape":"M0,0L0.5,1L0,0.72L-0.5,1Z","size":1936,"angle":121,"filled":true,"color":"#ffffff","opacity":1,"strokeWidth":0},
 "encoding":{"x":{"field":"b","type":"quantitative","scale":{"domain":[-0.2,208.8],"nice":false,"zero":false},"title":null},
  "y":{"field":"p","type":"quantitative","scale":{"domain":[1657.42,1770.47],"nice":false,"zero":false},"title":null}}},
{"data":{"values":[{"b":198.9,"p":1754.44}]},
 "mark":{"type":"point","shape":"M0,0L0.5,1L0,0.72L-0.5,1Z","size":900,"angle":25,"filled":true,"color":"#ffffff","opacity":1,"strokeWidth":0},
 "encoding":{"x":{"field":"b","type":"quantitative","scale":{"domain":[-0.2,208.8],"nice":false,"zero":false},"title":null},
  "y":{"field":"p","type":"quantitative","scale":{"domain":[1657.42,1770.47],"nice":false,"zero":false},"title":null}}},
{"data":{"name":"lv"},"transform":[{"filter":"datum.n != ''"}],
 "mark":{"type":"text","font":"Noto Sans CJK SC","fontSize":13,"align":"left","baseline":"top","dy":1},
 "encoding":{"x":{"datum":193,"type":"quantitative","scale":{"domain":[-0.2,208.8],"nice":false,"zero":false},"title":null},
  "y":{"field":"p","type":"quantitative","scale":{"domain":[1657.42,1770.47],"nice":false,"zero":false},"title":null},
  "text":{"field":"n"},
  "color":{"field":"k","type":"nominal","scale":{"domain":["res","piv","last","sup"],"range":["#00ff00","#0000ff","#b4b4b4","#ff0000"]},"legend":null}}},
{"data":{"values":[
  {"b":102.8,"p":1763.36,"t":"【红色多头区间：只做多,不做空】"}]},
 "mark":{"type":"text","font":"Noto Sans CJK SC","fontSize":23,"align":"center","baseline":"middle","color":"#960000"},
 "encoding":{"x":{"field":"b","type":"quantitative","scale":{"domain":[-0.2,208.8],"nice":false,"zero":false},"title":null},
  "y":{"field":"p","type":"quantitative","scale":{"domain":[1657.42,1770.47],"nice":false,"zero":false},"title":null},
  "text":{"field":"t"}}},
{"data":{"values":[
  {"b":102.8,"p":1756.09,"t":"【绿色空头区间：只做空,不做多】"}]},
 "mark":{"type":"text","font":"Noto Sans CJK SC","fontSize":23,"align":"center","baseline":"middle","color":"#007000"},
 "encoding":{"x":{"field":"b","type":"quantitative","scale":{"domain":[-0.2,208.8],"nice":false,"zero":false},"title":null},
  "y":{"field":"p","type":"quantitative","scale":{"domain":[1657.42,1770.47],"nice":false,"zero":false},"title":null},
  "text":{"field":"t"}}},
{"data":{"values":[
  {"b":102.9,"p":1748.32,"t":"【震荡区间：多空双向操作】"}]},
 "mark":{"type":"text","font":"Noto Sans CJK SC","fontSize":22,"align":"center","baseline":"middle","color":"#8a8a8a"},
 "encoding":{"x":{"field":"b","type":"quantitative","scale":{"domain":[-0.2,208.8],"nice":false,"zero":false},"title":null},
  "y":{"field":"p","type":"quantitative","scale":{"domain":[1657.42,1770.47],"nice":false,"zero":false},"title":null},
  "text":{"field":"t"}}},
{"data":{"values":[{"b":37.2,"p":1751.88,"t":"1726.70"}]},
 "mark":{"type":"text","font":"Liberation Sans","fontSize":55,"align":"center","baseline":"alphabetic","color":"#ffffff"},
 "encoding":{"x":{"field":"b","type":"quantitative","scale":{"domain":[-0.2,208.8],"nice":false,"zero":false},"title":null},
  "y":{"field":"p","type":"quantitative","scale":{"domain":[1657.42,1770.47],"nice":false,"zero":false},"title":null},
  "text":{"field":"t"}}},
{"data":{"values":[{"b":1.8,"p":1769.15,"t":"GOLD,H4  1726.75 1726.75 1726.58 1726.70"}]},
 "mark":{"type":"text","font":"Liberation Sans","fontSize":9.5,"align":"left","baseline":"middle","color":"#d0d0d0"},
 "encoding":{"x":{"field":"b","type":"quantitative","scale":{"domain":[-0.2,208.8],"nice":false,"zero":false},"title":null},
  "y":{"field":"p","type":"quantitative","scale":{"domain":[1657.42,1770.47],"nice":false,"zero":false},"title":null},
  "text":{"field":"t"}}},
{"data":{"values":[{"b":0.55,"p":1769.15,"t":"▼"}]},
 "mark":{"type":"text","font":"DejaVu Sans","fontSize":7,"align":"center","baseline":"middle","color":"#c0c0c0"},
 "encoding":{"x":{"field":"b","type":"quantitative","scale":{"domain":[-0.2,208.8],"nice":false,"zero":false},"title":null},
  "y":{"field":"p","type":"quantitative","scale":{"domain":[1657.42,1770.47],"nice":false,"zero":false},"title":null},
  "text":{"field":"t"}}},
{"data":{"values":[
  {"b":0.43,"p":1765.02,"t":"昨日数据:"},
  {"b":0.43,"p":1763.03,"t":"最高价 1744.95"},
  {"b":0.43,"p":1761.05,"t":"最低价 1721.3"},
  {"b":0.43,"p":1758.9,"t":"收盘价 1728.09"}]},
 "mark":{"type":"text","font":"Noto Sans CJK SC","fontSize":10.5,"align":"left","baseline":"middle","color":"#e6e6e6"},
 "encoding":{"x":{"field":"b","type":"quantitative","scale":{"domain":[-0.2,208.8],"nice":false,"zero":false},"title":null},
  "y":{"field":"p","type":"quantitative","scale":{"domain":[1657.42,1770.47],"nice":false,"zero":false},"title":null},
  "text":{"field":"t"}}},
{"data":{"name":"lv"},
 "mark":{"type":"point","shape":"M-1,-0.275L1,-0.275L1,0.275L-1,0.275Z","size":1600,"filled":true,"opacity":1,"strokeWidth":0},
 "encoding":{"x":{"datum":211.43,"type":"quantitative","scale":{"domain":[-0.2,208.8],"nice":false,"zero":false},"title":null},
  "y":{"field":"p","type":"quantitative","scale":{"domain":[1657.42,1770.47],"nice":false,"zero":false},"title":null},
  "color":{"field":"k","type":"nominal","scale":{"domain":["res","piv","last","sup"],"range":["#00ff00","#0000ff","#b4b4b4","#ff0000"]},"legend":null}}},
{"data":{"name":"lv"},
 "mark":{"type":"text","font":"Liberation Sans","fontSize":9.5,"align":"left","baseline":"middle","color":"#000000"},
 "encoding":{"x":{"datum":209.45,"type":"quantitative","scale":{"domain":[-0.2,208.8],"nice":false,"zero":false},"title":null},
  "y":{"field":"p","type":"quantitative","scale":{"domain":[1657.42,1770.47],"nice":false,"zero":false},"title":null},
  "text":{"field":"lab"}}}
]
}
